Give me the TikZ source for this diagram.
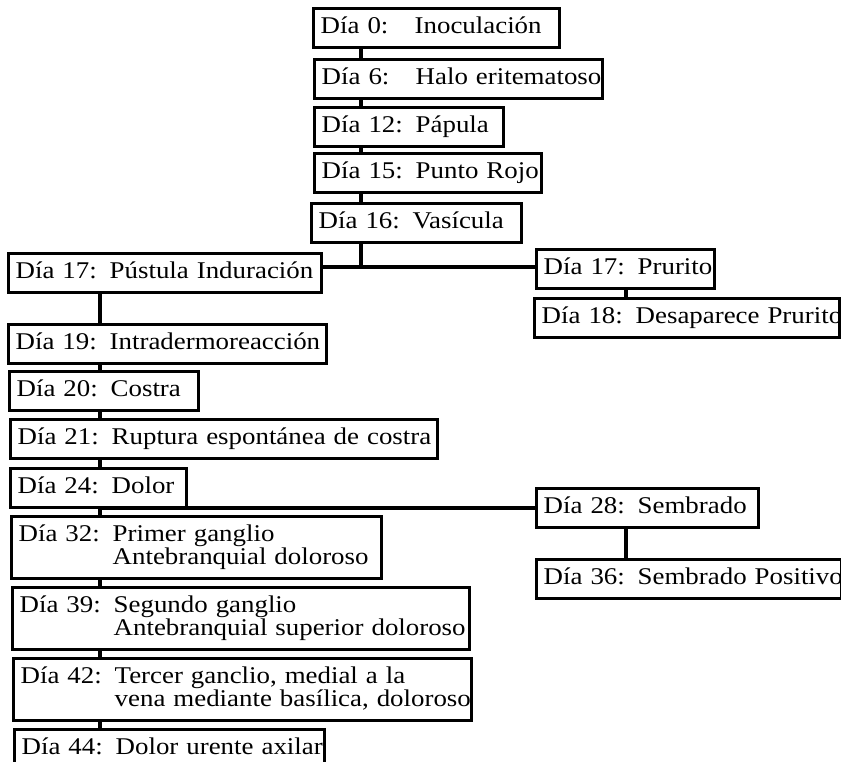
\documentclass[tikz,border=0pt]{standalone}
\usepackage{fontspec}
\setmainfont{Liberation Serif}[FakeStretch=1.12]

\newcommand{\dia}[2]{\begin{tabular}{@{}p{47pt}@{}l@{}}Día #1: & #2\end{tabular}}

\tikzset{
  etapa/.style={draw, line width=1.7pt, anchor=north west, align=left,
    inner xsep=3.5pt, inner ysep=4pt, font=\fontsize{12}{10.2}\selectfont},
  enlace/.style={line width=1.7pt},
}

\begin{document}
\begin{tikzpicture}[x=0.5pt, y=-0.5pt]
  \clip (0,0) rectangle (841,761);

  \node[etapa, text width=116pt] (d0) at (312,7) {\dia{0}{Inoculación}};
  \node[etapa, text width=137pt] (d6) at (313,58) {\dia{6}{Halo eritematoso}};
  \node[etapa, text width=87.5pt] (d12) at (313,106) {\dia{12}{Pápula}};
  \node[etapa, text width=106.5pt] (d15) at (313,152) {\dia{15}{Punto Rojo}};
  \node[etapa, text width=98pt] (d16) at (310,202) {\dia{16}{Vasícula}};
  \node[etapa, text width=149.5pt] (d17l) at (7,252) {\dia{17}{Pústula Induración}};
  \node[etapa, text width=82pt] (d17r) at (535,248) {\dia{17}{Prurito}};
  \node[etapa, text width=145.5pt] (d18) at (533,297) {\dia{18}{Desaparece Prurito}};
  \node[etapa, text width=152pt] (d19) at (7,323) {\dia{19}{Intradermoreacción}};
  \node[etapa, text width=87.5pt] (d20) at (8,370) {\dia{20}{Costra}};
  \node[etapa, text width=206.5pt] (d21) at (9,418) {\dia{21}{Ruptura espontánea de costra}};
  \node[etapa, text width=81pt] (d24) at (9,467) {\dia{24}{Dolor}};
  \node[etapa, text width=104pt] (d28) at (535,487) {\dia{28}{Sembrado}};
  \node[etapa, text width=178pt] (d32) at (10,515) {\dia{32}{Primer ganglio\\ & Antebranquial doloroso}};
  \node[etapa, text width=145.5pt] (d36) at (535,558) {\dia{36}{Sembrado Positivo}};
  \node[etapa, text width=221.5pt] (d39) at (11,586) {\dia{39}{Segundo ganglio\\ & Antebranquial superior doloroso}};
  \node[etapa, text width=222pt] (d42) at (12,657) {\dia{42}{Tercer ganclio, medial a la\\ & vena mediante basílica, doloroso}};
  \node[etapa, text width=148pt] (d44) at (13,728) {\dia{44}{Dolor urente axilar}};

  \coordinate (cc) at (361,0);
  \coordinate (lc) at (100,0);
  \coordinate (rc) at (626,0);
  \coordinate (j1) at (361,267);
  \coordinate (j2) at (100,508);

  \foreach \a/\b in {d0/d6, d6/d12, d12/d15, d15/d16}
    \draw[enlace] (\a.south -| cc) -- (\b.north -| cc);
  \draw[enlace] (d16.south -| cc) -- (j1);
  \draw[enlace] (d17l.east |- j1) -- (d17r.west |- j1);
  \foreach \a/\b in {d17l/d19, d19/d20, d20/d21, d21/d24, d24/d32, d32/d39, d39/d42, d42/d44}
    \draw[enlace] (\a.south -| lc) -- (\b.north -| lc);
  \draw[enlace] (j2) -- (d28.west |- j2);
  \draw[enlace] (d17r.south -| rc) -- (d18.north -| rc);
  \draw[enlace] (d28.south -| rc) -- (d36.north -| rc);
\end{tikzpicture}
\end{document}
